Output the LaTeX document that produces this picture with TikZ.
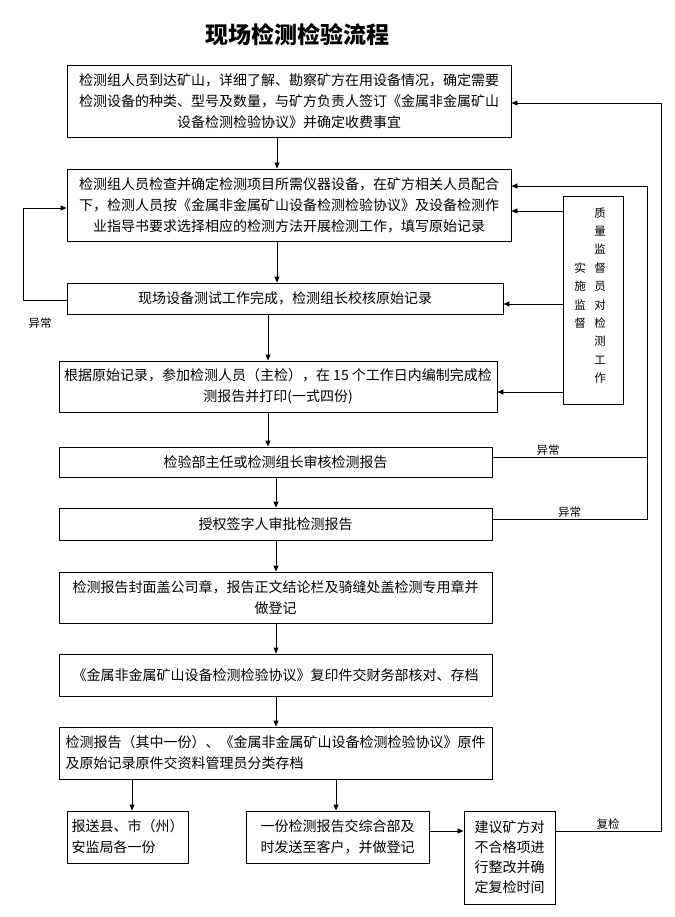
\documentclass[tikz,border=0pt]{standalone}
\usepackage{fontspec}
\setmainfont{Noto Sans CJK SC}
\usetikzlibrary{arrows.meta}

\begin{document}
\begin{tikzpicture}[
        x=1pt, y=-1pt,
        font=\fontsize{14}{21}\selectfont,
        line width=0.9pt,
        step_box/.style={
            draw,
            rectangle,
            inner sep=0pt,
            align=center
        },
        flow_arrow/.style={
            -{Triangle[length=6pt,width=5pt]}
        },
        err_label/.style={
            font=\fontsize{11.5}{12}\selectfont,
            inner sep=1pt
        },
        sup_text/.style={
            font=\fontsize{11.5}{18.4}\selectfont,
            align=center,
            inner sep=0pt
        }
    ]
        \useasboundingbox (0,0) rectangle (674,917);

        \node[font=\fontsize{23}{23}\selectfont\bfseries] (title) at (297,35) {现场检测检验流程};

        \node[step_box, minimum width=444pt, minimum height=72pt] (b1) at (289,101)
            {检测组人员到达矿山，详细了解、勘察矿方在用设备情况，确定需要\\检测设备的种类、型号及数量，与矿方负责人签订《金属非金属矿山\\设备检测检验协议》并确定收费事宜};
        \node[step_box, minimum width=444pt, minimum height=72pt] (b2) at (289,205)
            {检测组人员检查并确定检测项目所需仪器设备，在矿方相关人员配合\\下，检测人员按《金属非金属矿山设备检测检验协议》及设备检测作\\业指导书要求选择相应的检测方法开展检测工作，填写原始记录};
        \node[step_box, minimum width=436pt, minimum height=31pt] (b3) at (285,298.5)
            {现场设备测试工作完成，检测组长校核原始记录};
        \node[step_box, minimum width=438pt, minimum height=51pt] (b4) at (278,386.5)
            {根据原始记录，参加检测人员（主检），在 15 个工作日内编制完成检\\测报告并打印(一式四份)};
        \node[step_box, minimum width=433pt, minimum height=30pt] (b5) at (275.5,462)
            {检验部主任或检测组长审核检测报告};
        \node[step_box, minimum width=433pt, minimum height=32pt] (b6) at (275.5,524)
            {授权签字人审批检测报告};
        \node[step_box, minimum width=433pt, minimum height=51pt] (b7) at (275.5,597.5)
            {检测报告封面盖公司章，报告正文结论栏及骑缝处盖检测专用章并\\做登记};
        \node[step_box, minimum width=433pt, minimum height=42pt] (b8) at (275.5,675)
            {《金属非金属矿山设备检测检验协议》复印件交财务部核对、存档};
        \node[step_box, align=left, minimum width=433pt, minimum height=52pt] (b9) at (275.5,753)
            {检测报告（其中一份）、《金属非金属矿山设备检测检验协议》原件\\及原始记录原件交资料管理员分类存档};
        \node[step_box, align=left, minimum width=121pt, minimum height=52pt] (b10) at (127.5,837)
            {报送县、市（州）\\安监局各一份};
        \node[step_box, minimum width=183pt, minimum height=52pt] (b11) at (337.5,837)
            {一份检测报告交综合部及\\时发送至客户，并做登记};
        \node[step_box, font=\fontsize{14}{20}\selectfont, minimum width=91pt, minimum height=93pt] (b12) at (509.5,857.5)
            {建议矿方对\\不合格项进\\行整改并确\\定复检时间};

        % supervision box
        \node[step_box, minimum width=60pt, minimum height=208pt] (sup) at (593,300) {};
        \node[sup_text] (supR) at ([xshift=7pt,yshift=4.5pt]sup.center)
            {质\\量\\监\\督\\员\\对\\检\\测\\工\\作};
        \node[sup_text] (supL) at ([xshift=-13pt,yshift=4.5pt]sup.center)
            {实\\施\\监\\督};

        % main flow
        \foreach \a/\b/\x in {b1/b2/277, b2/b3/277, b3/b4/268, b4/b5/268, b5/b6/276,
                              b6/b7/276, b7/b8/276, b8/b9/276, b9/b10/132, b9/b11/336}
            \draw[flow_arrow] (\a.south -| \x,0) -- (\b.north -| \x,0);
        \draw[flow_arrow] ([yshift=6pt]b11.east) -- ([yshift=6pt]b11.east -| b12.west);

        % supervision
        \foreach \b/\y in {b2/211, b3/304, b4/392}
            \draw[flow_arrow] (sup.west |- 0,\y) -- (\b.east |- 0,\y);

        % abnormal returns
        \coordinate (errBot) at (647,519);
        \coordinate (errTop) at (647,186);
        \draw (b5.east |- 0,457) -- (errBot |- 0,457)
            node[err_label, pos=0.36, above] (err5) {异常};
        \draw[flow_arrow] (b6.east |- errBot) -- (errBot)
            node[err_label, midway, above] (err6) {异常}
            -- (errTop) -- (errTop -| b2.east);

        \coordinate (loopBot) at (23,300);
        \coordinate (loopTop) at (23,208);
        \draw[flow_arrow] (b3.west |- loopBot) -- (loopBot) -- (loopTop) -- (loopTop -| b2.west);
        \node[err_label] (errL) at (40,323) {异常};

        % re-check
        \coordinate (reBot) at (661,831);
        \coordinate (reTop) at (661,103);
        \draw[flow_arrow] (b12.east |- reBot) -- (reBot)
            node[err_label, midway, above] (re) {复检}
            -- (reTop) -- (reTop -| b1.east);

    \end{tikzpicture}
\end{document}
